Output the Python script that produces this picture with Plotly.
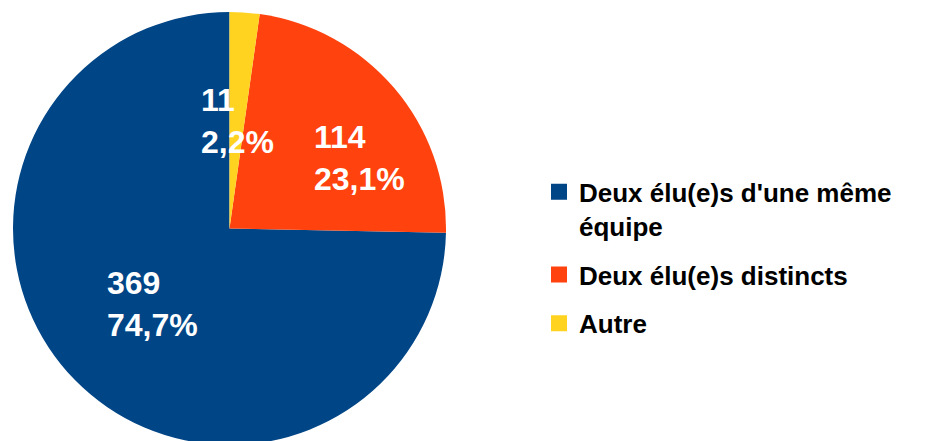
import math
import plotly.graph_objects as go

labels = ["Deux élu(e)s d'une même<br>équipe", "Deux élu(e)s distincts", "Autre"]
values = [369, 114, 11]
colors = ["#004586", "#ff420e", "#ffd320"]

# label box anchoring (style only)
label_xanchor = ["center", "left", "center"]

W, H = 931, 441
M = dict(l=0, r=0, t=4, b=4)
dom_x = [0, 443 / W]

total = sum(values)
# first slice runs counterclockwise from 12 o'clock
rotation = 360 - 360 * values[0] / total

fig = go.Figure()
fig.add_trace(go.Pie(
    labels=labels,
    values=values,
    sort=False,
    direction="counterclockwise",
    rotation=rotation,
    marker=dict(colors=colors, line=dict(width=0)),
    textinfo="none",
    domain=dict(x=dom_x, y=[0, 1]),
    hoverinfo="skip",
    showlegend=False,
))

# data labels placed at half radius along each slice's middle angle
area_w = W - M["l"] - M["r"]
area_h = H - M["t"] - M["b"]
R = min((dom_x[1] - dom_x[0]) * area_w, area_h) / 2
cx = (dom_x[0] + dom_x[1]) / 2
cy = 0.5
cum = 0
for v, xa in zip(values, label_xanchor):
    phi = math.radians(360 * (cum + v / 2) / total)
    cum += v
    r = 0.5 * R
    pct = f"{100 * v / total:.1f}".replace(".", ",")
    fig.add_annotation(
        x=cx - r * math.sin(phi) / area_w,
        y=cy + r * math.cos(phi) / area_h,
        xref="paper", yref="paper",
        text=f"{v}<br>{pct}%",
        showarrow=False, align="left",
        xanchor=xa, yanchor="middle",
        font=dict(family="Liberation Sans", size=32, color="white", weight="bold"),
    )

for lab, col in zip(labels, colors):
    fig.add_trace(go.Scatter(
        x=[None], y=[None], mode="markers", name=lab, legendgroup=lab,
        marker=dict(symbol="square", size=16, color=col),
        hoverinfo="skip",
    ))

fig.update_layout(
    width=W, height=H,
    margin=M,
    paper_bgcolor="white",
    plot_bgcolor="white",
    xaxis=dict(visible=False, domain=[0.6, 1]),
    yaxis=dict(visible=False),
    legend=dict(
        x=531 / W, xanchor="left",
        y=0.432, yanchor="middle",
        valign="top",
        tracegroupgap=12,
        itemsizing="trace",
        font=dict(family="Liberation Sans", size=26, color="black", weight="bold"),
        bgcolor="rgba(0,0,0,0)",
    ),
)

fig.write_html("out.html")
